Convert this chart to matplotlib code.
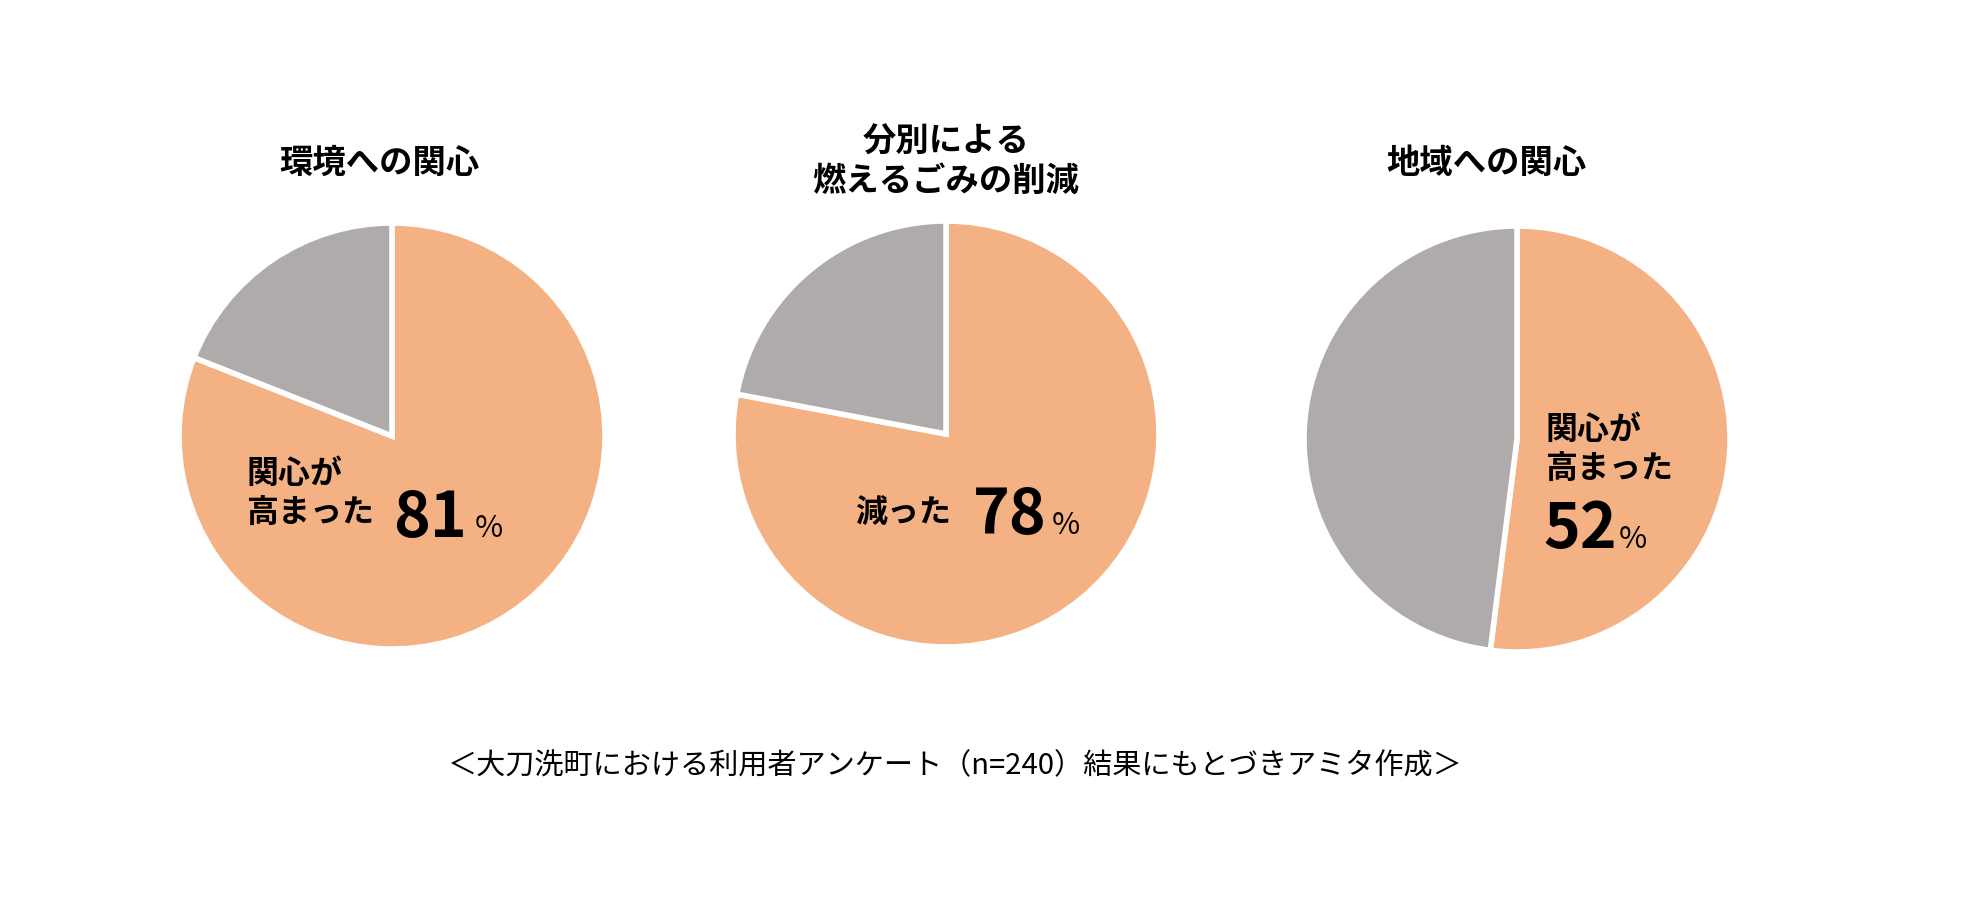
import matplotlib
matplotlib.use("Agg")
import matplotlib.pyplot as plt

plt.rcParams['font.family'] = ['Noto Sans CJK JP', 'DejaVu Sans']

titles = ["環境への関心", "分別による\n燃えるごみの削減", "地域への関心"]
yes_pct = [81, 78, 52]
other_pct = [19, 22, 48]
yes_labels = ["関心が\n高まった", "減った", "関心が\n高まった"]
note = "＜大刀洗町における利用者アンケート（n=240）結果にもとづきアミタ作成＞"

ORANGE = "#F4B183"
GRAY = "#AFABAB"

W, H = 1966, 918
fig = plt.figure(figsize=(W / 100, H / 100), dpi=100)
ax = fig.add_axes([0, 0, 1, 1])

# pie centres / radius in image pixels (y from top)
centers = [(392, 436), (946, 434), (1517, 439)]
radius = 213

for (cx, cy), a, b in zip(centers, yes_pct, other_pct):
    ax.pie([a, b], colors=[ORANGE, GRAY], startangle=90, counterclock=False,
           center=(cx, H - cy), radius=radius,
           wedgeprops=dict(edgecolor="white", linewidth=4))

ax.set_xlim(0, W)
ax.set_ylim(0, H)
ax.set_aspect('equal')
ax.axis('off')

def put(x, y, s, **kw):
    ax.text(x, H - y, s, **kw)

# titles
put(379, 163, titles[0], fontsize=24, fontweight='bold', ha='center', va='center')
put(946, 162, titles[1], fontsize=24, fontweight='bold', ha='center', va='center',
    linespacing=1.25)
put(1486, 163, titles[2], fontsize=24, fontweight='bold', ha='center', va='center')

lab = dict(fontsize=23, fontweight='bold')
num = dict(fontsize=45, fontweight='bold', ha='left', va='baseline')
pct = dict(fontsize=22, ha='left', va='baseline')

# pie 1
put(246, 494, yes_labels[0], ha='left', va='center', linespacing=1.3, **lab)
put(393, 537, f"{yes_pct[0]}", **num)
put(475, 537, "%", **pct)

# pie 2
put(855, 514, yes_labels[1], ha='left', va='center', **lab)
put(973, 534, f"{yes_pct[1]}", **num)
put(1052, 534, "%", **pct)

# pie 3
put(1545, 450, yes_labels[2], ha='left', va='center', linespacing=1.3, **lab)
put(1543, 548, f"{yes_pct[2]}", **num)
put(1619, 548, "%", **pct)

put(955, 766, note, fontsize=21, ha='center', va='center')

fig.savefig("out.png", dpi=100)
